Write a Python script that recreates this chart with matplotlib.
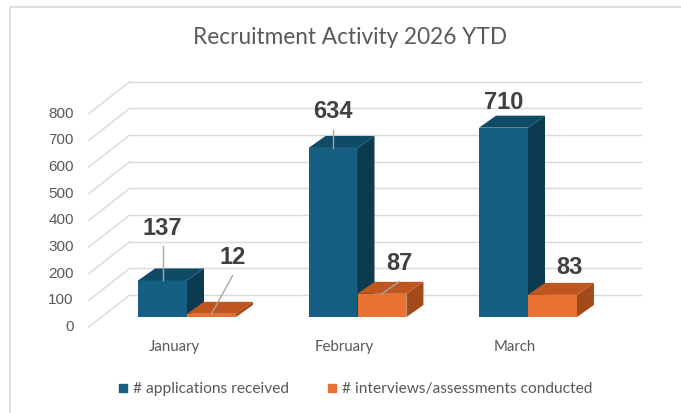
import numpy as np
import matplotlib
matplotlib.use("Agg")
import matplotlib.pyplot as plt
from matplotlib.patches import Polygon
from matplotlib.lines import Line2D

# --- DATA ---
months = ["January", "February", "March"]
applications = [137, 634, 710]
interviews = [12, 87, 83]
series_names = ["# applications received", "# interviews/assessments conducted"]
y_ticks = [0, 100, 200, 300, 400, 500, 600, 700, 800]

# --- STYLE ---
BLUE = ["#156082", "#0f4a66", "#0c3a50"]      # front, top, side
ORANGE = ["#e97132", "#c0561f", "#a24a19"]
GRID = "#d9d9d9"
TEXT = "#595959"
W_PX, H_PX, DPI = 681, 413, 100

# pixel geometry (front plane of the bars)
PX_PER_CAT = 170.5
PX_PER_UNIT = 240 / 900
BAR_W = 0.287
DEPTH = (17, 12)        # bar depth in px
WALL = (28, 22)         # back wall offset from bar plane, px
FLOOR = (-13, -10)      # front floor edge offset, px

# label offsets from bar top centre (px) and whether a leader line is drawn
label_off_apps = [(0, 52), (0, 36), (0, 25)]
label_off_int = [(21, 56), (17, 30), (17, 27)]
leader_apps = [True, True, False]
leader_int = [True, True, False]


def px2d(dx, dy):
    return dx / PX_PER_CAT, dy / PX_PER_UNIT


def draw_box(ax, x0, h, colors, z):
    ddx, ddy = px2d(*DEPTH)
    ax.bar(x0, h, BAR_W, align="edge", color=colors[0], zorder=z, linewidth=0)
    top = [(x0, h), (x0 + BAR_W, h), (x0 + BAR_W + ddx, h + ddy), (x0 + ddx, h + ddy)]
    side = [(x0 + BAR_W, 0), (x0 + BAR_W + ddx, ddy), (x0 + BAR_W + ddx, h + ddy), (x0 + BAR_W, h)]
    ax.add_patch(Polygon(top, closed=True, fc=colors[1], ec="none", zorder=z))
    ax.add_patch(Polygon(side, closed=True, fc=colors[2], ec="none", zorder=z))


def label(ax, xc, h, text, off, leader):
    ox, oy = px2d(*off)
    ax.text(xc + ox, h + oy, text, ha="center", va="center", fontsize=17,
            fontweight="bold", color="#404040", family="Liberation Sans", zorder=10)
    if leader:
        _, gap = px2d(0, 18)
        ax.plot([xc + ox, xc], [h + oy - gap, h], color="#a6a6a6", lw=1, zorder=9)


def main():
    fig = plt.figure(figsize=(W_PX / DPI, H_PX / DPI), dpi=DPI)
    fig.patch.set_facecolor("white")

    # outer chart border (top and left edges only are visible)
    bx, by = 9.5 / W_PX, 1 - 6.5 / H_PX
    fig.add_artist(Line2D([bx, 1], [by, by], transform=fig.transFigure, color="#d9d9d9", lw=1.2))
    fig.add_artist(Line2D([bx, bx], [0, by], transform=fig.transFigure, color="#d9d9d9", lw=1.2))

    left = 187 - PX_PER_CAT / 2
    ax = fig.add_axes([left / W_PX, 96 / H_PX, 3 * PX_PER_CAT / W_PX, 240 / H_PX])
    ax.set_xlim(-0.5, 2.5)
    ax.set_ylim(0, 900)
    ax.axis("off")

    x = np.arange(len(months))
    wdx, wdy = px2d(*WALL)
    fdx, fdy = px2d(*FLOOR)

    # back wall gridlines + left wall diagonals
    for v in y_ticks:
        ax.plot([-0.5 + wdx, 2.5 + wdx], [v + wdy, v + wdy], color=GRID, lw=1, zorder=1, clip_on=False)
        ax.plot([-0.5 + fdx, -0.5 + wdx], [v + fdy, v + wdy], color=GRID, lw=1, zorder=1, clip_on=False)
        lx, _ = px2d(15, 0)
        ax.text(-0.5 + fdx - lx, v + fdy, str(v), ha="right", va="center",
                fontsize=11, color=TEXT, family="Liberation Sans")

    # bars
    for i in range(len(months)):
        draw_box(ax, x[i] - BAR_W, applications[i], BLUE, 3 + 2 * i)
        draw_box(ax, x[i], interviews[i], ORANGE, 4 + 2 * i)

    for i in range(len(months)):
        label(ax, x[i] - BAR_W / 2, applications[i], str(applications[i]), label_off_apps[i], leader_apps[i])
        label(ax, x[i] + BAR_W / 2, interviews[i], str(interviews[i]), label_off_int[i], leader_int[i])

    # category labels along the front floor edge
    _, cy = px2d(0, 20)
    for i, m in enumerate(months):
        ax.text(x[i] + fdx, fdy - cy, m, ha="center", va="center", fontsize=10.8,
                color=TEXT, family="Lato")

    fig.text(350 / W_PX, 1 - 37 / H_PX, "Recruitment Activity 2026 YTD", ha="center",
             va="center", fontsize=16.3, color=TEXT, family="Lato")

    handles = [Line2D([], [], marker="s", ls="none", color=BLUE[0], markersize=6),
               Line2D([], [], marker="s", ls="none", color=ORANGE[0], markersize=6)]
    fig.legend(handles, series_names, loc="center", bbox_to_anchor=(353 / W_PX, 1 - 389 / H_PX),
               ncol=2, frameon=False, handletextpad=0.05, handlelength=1.2, columnspacing=2.2,
               prop={"family": "Lato", "size": 11.2}, labelcolor=TEXT)

    fig.savefig("out.png", dpi=DPI, facecolor="white")


if __name__ == "__main__":
    main()
